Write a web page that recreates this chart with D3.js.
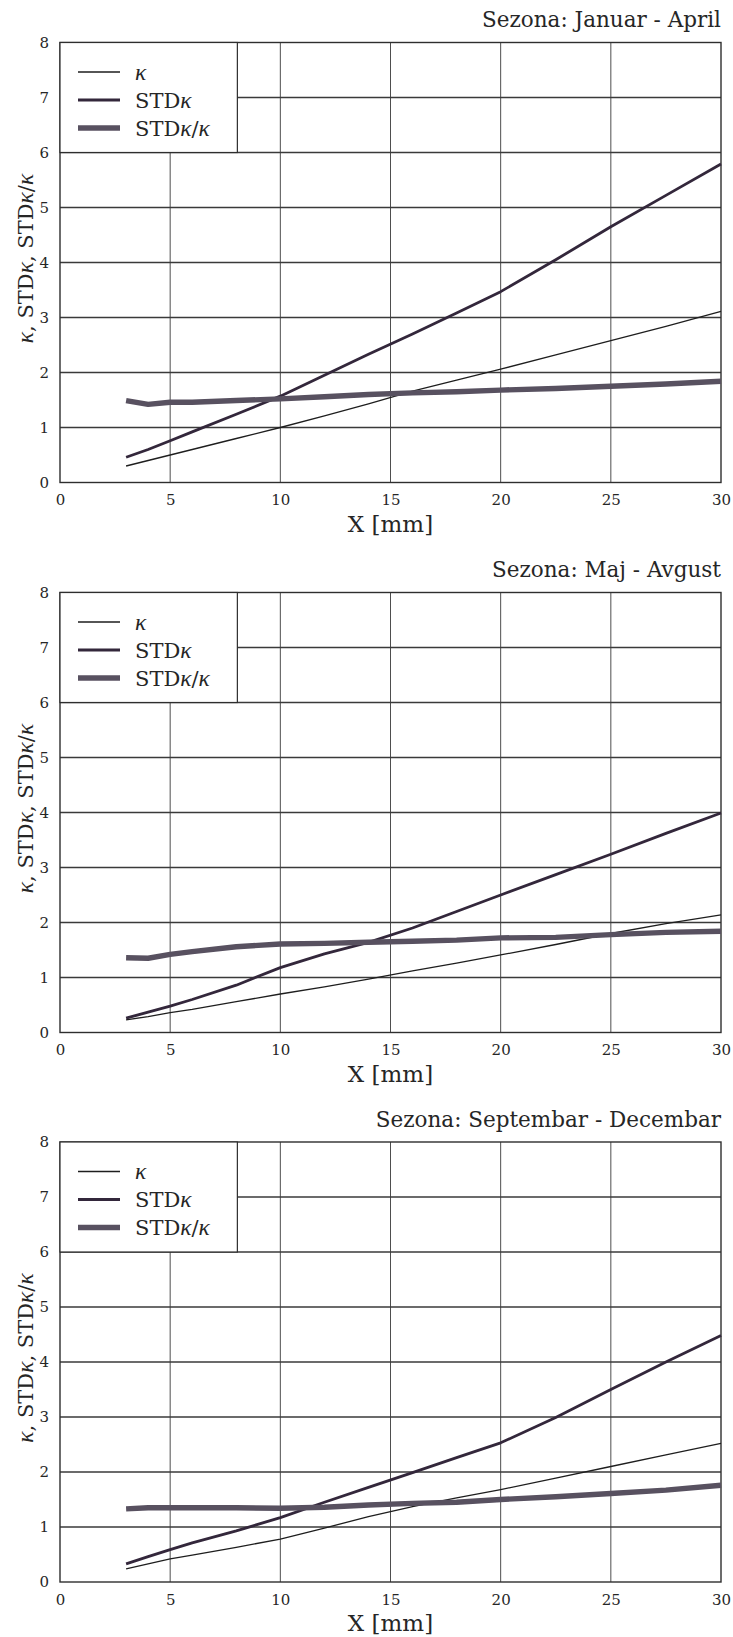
<!DOCTYPE html>
<html>
<head>
<meta charset="utf-8">
<script src="https://cdn.jsdelivr.net/npm/d3@7"></script>
<style>
  body { margin: 0; background: #fff; }
  svg { display: block; }
  text { font-family: "DejaVu Serif", serif; fill: #262626; }
  tspan.greek { font-family: "Liberation Serif", serif; font-style: italic; }
</style>
</head>
<body>
<script>
// Distance X [mm] at which the three quantities were evaluated
const xValues = [3, 4, 5, 6, 8, 10, 12, 14, 16, 18, 20, 22.5, 25, 27.5, 30];

// Season: January - April
const kappaJanApr = [0.30, 0.40, 0.50, 0.60, 0.80, 1.00, 1.21, 1.43, 1.66, 1.86, 2.06, 2.32, 2.58, 2.84, 3.11];
const stdJanApr   = [0.46, 0.60, 0.76, 0.92, 1.24, 1.57, 1.95, 2.33, 2.70, 3.08, 3.47, 4.05, 4.65, 5.22, 5.79];
const ratioJanApr = [1.49, 1.42, 1.46, 1.46, 1.49, 1.52, 1.56, 1.60, 1.63, 1.65, 1.68, 1.71, 1.75, 1.79, 1.84];

// Season: May - August
const kappaMajAvg = [0.23, 0.29, 0.36, 0.42, 0.56, 0.70, 0.83, 0.97, 1.12, 1.26, 1.41, 1.60, 1.80, 1.98, 2.14];
const stdMajAvg   = [0.26, 0.37, 0.48, 0.60, 0.86, 1.18, 1.43, 1.64, 1.90, 2.20, 2.50, 2.87, 3.24, 3.62, 3.99];
const ratioMajAvg = [1.36, 1.35, 1.42, 1.47, 1.56, 1.61, 1.62, 1.64, 1.66, 1.68, 1.72, 1.73, 1.78, 1.82, 1.84];

// Season: September - December
const kappaSepDec = [0.24, 0.33, 0.42, 0.49, 0.63, 0.78, 0.98, 1.19, 1.37, 1.53, 1.68, 1.89, 2.10, 2.31, 2.52];
const stdSepDec   = [0.33, 0.46, 0.59, 0.71, 0.93, 1.17, 1.45, 1.72, 1.99, 2.26, 2.53, 2.99, 3.50, 4.00, 4.48];
const ratioSepDec = [1.33, 1.35, 1.35, 1.35, 1.35, 1.34, 1.36, 1.40, 1.43, 1.45, 1.50, 1.55, 1.61, 1.67, 1.76];

const panelTitles = ["Sezona: Januar - April", "Sezona: Maj - Avgust", "Sezona: Septembar - Decembar"];
const xTicks = [0, 5, 10, 15, 20, 25, 30];
const yTicks = [0, 1, 2, 3, 4, 5, 6, 7, 8];
const xAxisLabel = "X [mm]";

const panels = [
  { title: panelTitles[0], kappa: kappaJanApr, std: stdJanApr, ratio: ratioJanApr },
  { title: panelTitles[1], kappa: kappaMajAvg, std: stdMajAvg, ratio: ratioMajAvg },
  { title: panelTitles[2], kappa: kappaSepDec, std: stdSepDec, ratio: ratioSepDec }
];

// Line styles for the three series
const styles = {
  kappa: { stroke: "#1e1e1e", width: 1.3 },
  std:   { stroke: "#33273b", width: 2.8 },
  ratio: { stroke: "#585160", width: 5.4 }
};

const W = 733, H = 1637;
const svg = d3.select("body").append("svg").attr("width", W).attr("height", H);
svg.append("rect").attr("width", W).attr("height", H).attr("fill", "#fff");

const left = 60, right = 721, plotH = 440;
const tops = [42.5, 592.5, 1142];

const x = d3.scaleLinear().domain([0, 30]).range([left, right]);

// writes a label where every "κ" is set as an italic math symbol
function richText(sel, str) {
  str.split(/(κ)/).filter(s => s.length).forEach(part => {
    const t = sel.append("tspan").text(part);
    if (part === "κ") t.attr("class", "greek").attr("font-size", "1.12em");
  });
}

panels.forEach((p, i) => {
  const top = tops[i], bottom = top + plotH;
  const y = d3.scaleLinear().domain([0, 8]).range([bottom, top]);
  const g = svg.append("g");

  // title
  g.append("text")
    .attr("x", right).attr("y", top - 15.5)
    .attr("text-anchor", "end").attr("font-size", 21.5)
    .text(p.title);

  // grid
  const grid = g.append("g").attr("stroke", "#3a3a3a");
  grid.selectAll("line.v").data(xTicks.slice(1, -1)).join("line")
    .attr("x1", d => x(d)).attr("x2", d => x(d))
    .attr("y1", top).attr("y2", bottom).attr("stroke-width", 0.9);
  grid.selectAll("line.h").data(yTicks.slice(1, -1)).join("line")
    .attr("x1", left).attr("x2", right)
    .attr("y1", d => y(d)).attr("y2", d => y(d)).attr("stroke-width", 1.4);

  // frame
  g.append("rect").attr("x", left).attr("y", top)
    .attr("width", right - left).attr("height", plotH)
    .attr("fill", "none").attr("stroke", "#2e2e2e").attr("stroke-width", 1.4);

  // axes tick labels
  const xAxis = d3.axisBottom(x).tickValues(xTicks).tickSize(0).tickPadding(12);
  const xa = g.append("g").attr("transform", `translate(0,${bottom})`).call(xAxis);
  xa.select(".domain").remove();
  xa.selectAll("text").attr("font-size", 15).attr("font-family", "DejaVu Serif").attr("fill", "#262626");

  const yAxis = d3.axisLeft(y).tickValues(yTicks).tickSize(0).tickPadding(11);
  const ya = g.append("g").attr("transform", `translate(${left},0)`).call(yAxis);
  ya.select(".domain").remove();
  ya.selectAll("text").attr("font-size", 15).attr("font-family", "DejaVu Serif").attr("fill", "#262626");

  // axis titles
  g.append("text")
    .attr("x", (left + right) / 2).attr("y", bottom + 49)
    .attr("text-anchor", "middle").attr("font-size", 23)
    .text(xAxisLabel);

  const yl = g.append("text")
    .attr("transform", `translate(33,${(top + bottom) / 2 - 4}) rotate(-90)`)
    .attr("text-anchor", "middle").attr("font-size", 21);
  richText(yl, "κ, STDκ, STDκ/κ");

  // series
  const line = vals => d3.line().x((d, j) => x(xValues[j])).y(d => y(d))(vals);
  [["kappa", p.kappa], ["std", p.std], ["ratio", p.ratio]].forEach(([k, vals]) => {
    g.append("path").attr("d", line(vals))
      .attr("fill", "none")
      .attr("stroke", styles[k].stroke)
      .attr("stroke-width", styles[k].width)
      .attr("stroke-linejoin", "round");
  });

  // legend
  const lg = g.append("g");
  lg.append("rect").attr("x", left).attr("y", top)
    .attr("width", x(8.05) - left).attr("height", y(6) - top)
    .attr("fill", "#fff").attr("stroke", "#2e2e2e").attr("stroke-width", 1.2);
  const items = [["kappa", "κ"], ["std", "STDκ"], ["ratio", "STDκ/κ"]];
  items.forEach(([k, label], j) => {
    const ry = top + 29.5 + j * 28;
    lg.append("line").attr("x1", 78).attr("x2", 120).attr("y1", ry).attr("y2", ry)
      .attr("stroke", styles[k].stroke).attr("stroke-width", styles[k].width);
    const t = lg.append("text").attr("x", 135).attr("y", ry).attr("dy", "0.36em")
      .attr("font-size", 21);
    richText(t, label);
  });
});
</script>
</body>
</html>
